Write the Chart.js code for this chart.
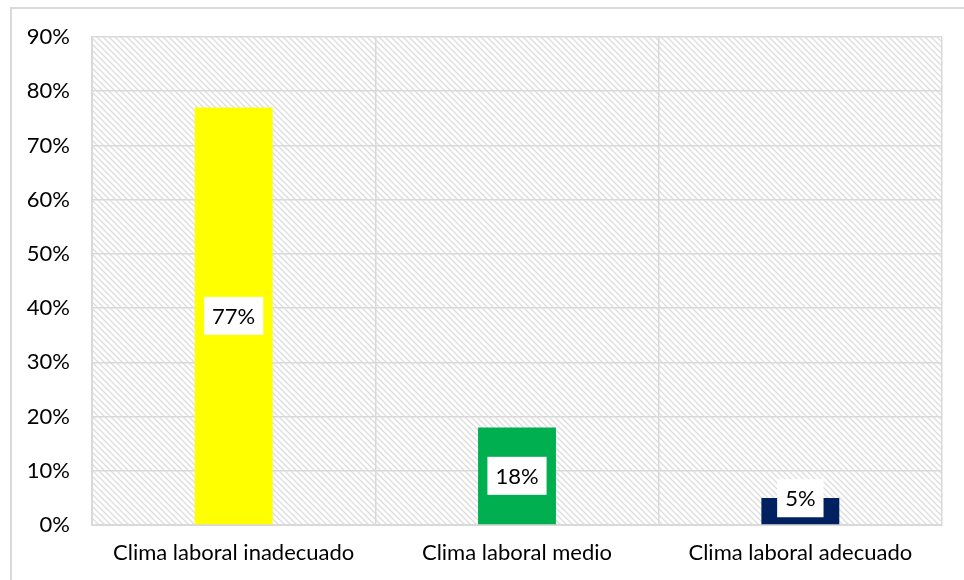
<!DOCTYPE html>
<html>
<head>
<meta charset="utf-8">
<script src="https://cdn.jsdelivr.net/npm/chart.js@4"></script>
<style>
  html, body { margin: 0; padding: 0; background: #fff; }
  #wrap { position: relative; width: 964px; height: 580px; }
  #frame { position: absolute; left: 10px; top: 7px; right: -4px; bottom: -4px; border: 2px solid #d9d9d9; }
  canvas { position: absolute; left: 0; top: 0; }
</style>
</head>
<body>
<div id="wrap">
  <div id="frame"></div>
  <canvas id="grafico" width="964" height="580"></canvas>
</div>
<script>
// datos del grafico
const categorias = ['Clima laboral inadecuado', 'Clima laboral medio', 'Clima laboral adecuado'];
const valores = [77, 18, 5];
const colores = ['#FFFF00', '#00B050', '#002060'];

const fuente = 'Lato, "Noto Sans", sans-serif';

// patron rayado del fondo
function crearPatron(ctx) {
  const c = document.createElement('canvas');
  c.width = 6; c.height = 6;
  const p = c.getContext('2d');
  p.fillStyle = '#fff';
  p.fillRect(0, 0, 6, 6);
  p.strokeStyle = '#dcdcdc';
  p.lineWidth = 1.3;
  p.beginPath();
  p.moveTo(-1, -1); p.lineTo(7, 7);
  p.moveTo(-4, 2); p.lineTo(4, 10);
  p.moveTo(2, -4); p.lineTo(10, 4);
  p.stroke();
  return ctx.createPattern(c, 'repeat');
}

const fondoRayado = {
  id: 'fondoRayado',
  beforeDraw(chart) {
    const { ctx, chartArea: a } = chart;
    ctx.save();
    ctx.fillStyle = crearPatron(ctx);
    ctx.fillRect(a.left, a.top, a.right - a.left, a.bottom - a.top);
    ctx.restore();
  }
};

// etiquetas con caja blanca
const etiquetas = {
  id: 'etiquetas',
  afterDatasetsDraw(chart) {
    const ctx = chart.ctx;
    const meta = chart.getDatasetMeta(0);
    ctx.save();
    ctx.font = '22px ' + fuente;
    ctx.textAlign = 'center';
    ctx.textBaseline = 'middle';
    meta.data.forEach((bar, i) => {
      const txt = valores[i] + '%';
      let y = (bar.y + bar.base) / 2;
      y = Math.min(y, bar.base - 26);
      const w = ctx.measureText(txt).width + 16;
      const h = 38;
      ctx.fillStyle = '#fff';
      ctx.fillRect(bar.x - w / 2, y - h / 2, w, h);
      ctx.fillStyle = '#000';
      ctx.fillText(txt, bar.x, y + 1);
    });
    ctx.restore();
  }
};

new Chart(document.getElementById('grafico'), {
  type: 'bar',
  data: {
    labels: categorias,
    datasets: [{
      data: valores,
      backgroundColor: colores,
      borderWidth: 0,
      barPercentage: 0.55,
      categoryPercentage: 0.5
    }]
  },
  options: {
    responsive: false,
    animation: false,
    layout: { padding: { top: 37, right: 22, left: 0, bottom: 0 } },
    plugins: { legend: { display: false }, tooltip: { enabled: false } },
    scales: {
      x: {
        offset: true,
        grid: { offset: true, color: '#d9d9d9', lineWidth: 1.5, drawTicks: false },
        border: { color: '#d9d9d9', width: 2 },
        ticks: { color: '#000', font: { family: fuente, size: 22 }, padding: 15, maxRotation: 0 },
        afterFit(s) { s.height = 55; }
      },
      y: {
        min: 0, max: 90,
        grid: { color: '#d9d9d9', lineWidth: 1.5, drawTicks: false },
        border: { color: '#d9d9d9', width: 2 },
        ticks: {
          stepSize: 10, color: '#000', padding: 22,
          font: { family: fuente, size: 22 },
          callback: v => v + '%'
        },
        afterFit(s) { s.width = 92; }
      }
    }
  },
  plugins: [fondoRayado, etiquetas]
});
</script>
</body>
</html>
